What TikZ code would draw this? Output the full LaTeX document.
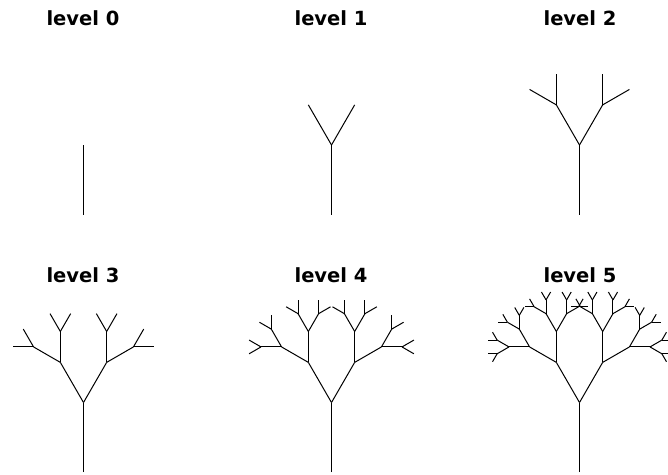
\documentclass[tikz,border=0pt]{standalone}
\usepackage{fontspec}
\setmainfont{DejaVu Sans}

% Recursive binary tree: #1,#2 start point, #3 angle from vertical (deg),
% #4 segment length, #5 remaining levels of branching.
\newcommand\twig[5]{%
  \pgfmathsetmacro\tx{#1+#4*sin(#3)}%
  \pgfmathsetmacro\ty{#2-#4*cos(#3)}%
  \draw[limb] (#1,#2) -- (\tx,\ty);
  \ifnum#5>0
    \pgfmathsetmacro\tl{#4*2/3}%
    \pgfmathsetmacro\tal{#3-30}%
    \pgfmathsetmacro\tar{#3+30}%
    \edef\twignext{%
      \noexpand\twig{\tx}{\ty}{\tal}{\tl}{\the\numexpr#5-1\relax}%
      \noexpand\twig{\tx}{\ty}{\tar}{\tl}{\the\numexpr#5-1\relax}}%
    \twignext
  \fi}

\begin{document}
\begin{tikzpicture}[x=1pt,y=-1pt,
  limb/.style={line width=1pt, black, line cap=butt},
  caption/.style={font=\fontsize{19.5}{22}\selectfont\bfseries, anchor=base, inner sep=0pt}]
  \useasboundingbox (0,0) rectangle (668,474);

  % top row
  \node[caption] (t0) at (83,25)  {level 0};
  \node[caption] (t1) at (331,25) {level 1};
  \node[caption] (t2) at (580,25) {level 2};
  \twig{83.5}{214.5}{0}{69.5}{0}
  \twig{331.5}{214.5}{0}{69.5}{1}
  \twig{579.5}{214.5}{0}{69.5}{2}

  % bottom row
  \node[caption] (t3) at (83,282)  {level 3};
  \node[caption] (t4) at (331,282) {level 4};
  \node[caption] (t5) at (580,282) {level 5};
  \twig{83.5}{472}{0}{69.5}{3}
  \twig{331.5}{472}{0}{69.5}{4}
  \twig{579.5}{472}{0}{69.5}{5}
\end{tikzpicture}
\end{document}
